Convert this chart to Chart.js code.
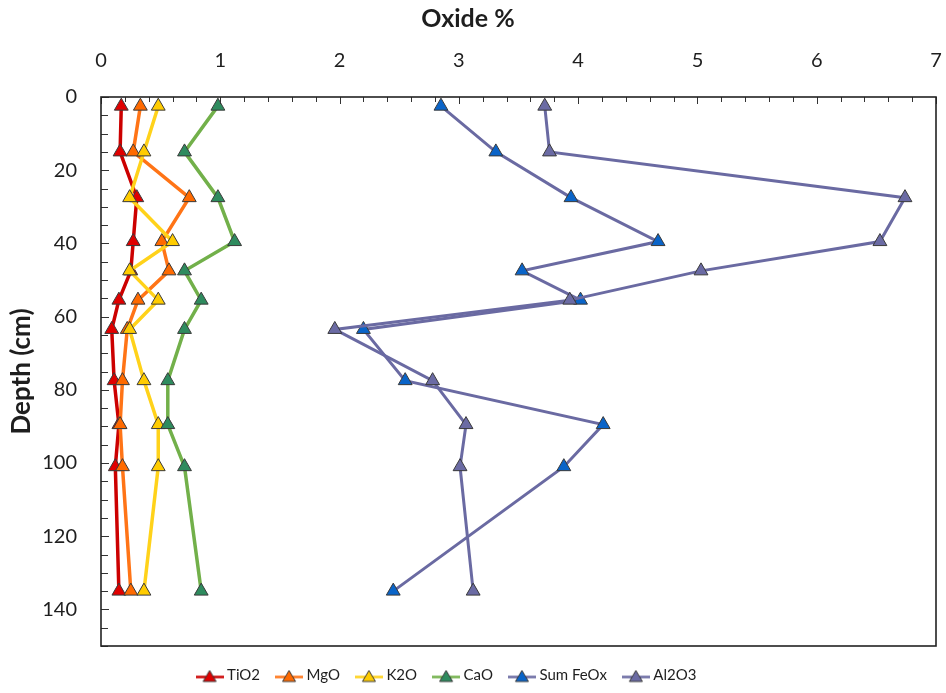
<!DOCTYPE html>
<html>
<head>
<meta charset="utf-8">
<title>Oxide % by depth</title>
<script src="https://cdn.jsdelivr.net/npm/chart.js@4.4.1/dist/chart.umd.min.js"></script>
<style>
  html, body { margin: 0; padding: 0; background: #ffffff; }
  canvas { display: block; }
</style>
</head>
<body>
<canvas id="chart" width="946" height="693"></canvas>
<script>
// Sample depths (cm) shared by every oxide profile
const depths = [2.5, 15, 27.5, 39.5, 47.5, 55.5, 63.5, 77.5, 89.5, 101, 135];

// Oxide contents (%) at each depth
const tio2  = [0.17, 0.16, 0.30, 0.27, 0.25, 0.15, 0.09, 0.11, 0.15, 0.12, 0.15];
const mgo   = [0.33, 0.27, 0.74, 0.51, 0.57, 0.31, 0.22, 0.18, 0.16, 0.18, 0.25];
const k2o   = [0.48, 0.36, 0.24, 0.60, 0.24, 0.48, 0.24, 0.36, 0.48, 0.48, 0.36];
const cao   = [0.98, 0.70, 0.98, 1.12, 0.70, 0.84, 0.70, 0.56, 0.56, 0.70, 0.84];
const feox  = [2.85, 3.31, 3.94, 4.67, 3.53, 4.02, 2.20, 2.55, 4.21, 3.88, 2.45];
const al2o3 = [3.72, 3.76, 6.74, 6.53, 5.03, 3.93, 1.96, 2.78, 3.06, 3.01, 3.12];

const seriesNames = ['TiO2', 'MgO', 'K2O', 'CaO', 'Sum FeOx', 'Al2O3'];
const seriesValues = [tio2, mgo, k2o, cao, feox, al2o3];

// Axis tick labels
const oxideTicks = [0, 1, 2, 3, 4, 5, 6, 7];
const depthTicks = [0, 20, 40, 60, 80, 100, 120, 140];

// Line colour / marker fill per series
const lineColors = ['#CC0000', '#FF7416', '#FFD21A', '#72B04A', '#6A6AA2', '#6A6AA2'];
const fillColors = ['#E00000', '#FF6A00', '#FFCC00', '#2E8B5E', '#0A64C8', '#6B6BA4'];

const FONT = 'Lato, "Open Sans", sans-serif';
const INK = '#1e1e1e';

// Small line-plus-triangle glyph for the legend
function legendGlyph(line, fill) {
  const c = document.createElement('canvas');
  c.width = 28; c.height = 16;
  const g = c.getContext('2d');
  g.strokeStyle = line; g.lineWidth = 2.5;
  g.beginPath(); g.moveTo(0, 9.5); g.lineTo(28, 9.5); g.stroke();
  g.fillStyle = fill; g.strokeStyle = '#3a3a3a'; g.lineWidth = 1;
  g.beginPath(); g.moveTo(14, 3); g.lineTo(20.5, 14); g.lineTo(7.5, 14); g.closePath();
  g.fill(); g.stroke();
  return c;
}
const glyphs = lineColors.map((c, i) => legendGlyph(c, fillColors[i]));

const datasets = seriesNames.map((name, i) => ({
  label: name,
  data: seriesValues[i].map((v, k) => ({ x: v, y: depths[k] })),
  showLine: true,
  borderColor: lineColors[i],
  backgroundColor: fillColors[i],
  borderWidth: i < 4 ? 3.5 : 3,
  pointStyle: 'triangle',
  pointRadius: 8,
  pointHoverRadius: 8,
  pointBackgroundColor: fillColors[i],
  pointBorderColor: '#3a3a3a',
  pointBorderWidth: 1,
  order: seriesNames.length - i,   // later series painted on top
  clip: false
}));

// Plot frame plus inward tick marks on the top and left axes
const axisFrame = {
  id: 'axisFrame',
  afterLayout(chart) {
    // legend row sits a little left of the canvas centre and slightly lower
    const lg = chart.legend;
    if (lg) { lg.left -= 40; lg.top += 3; lg.bottom += 3; }
  },
  afterDatasetsDraw(chart) {
    const { ctx, chartArea: a, scales } = chart;
    const x = scales.x, y = scales.y;
    ctx.save();
    ctx.strokeStyle = '#333333';
    ctx.lineWidth = 1;
    ctx.beginPath();
    for (let i = 0; i <= 35; i++) {
      const px = Math.round(x.getPixelForValue(i * 0.2)) + 0.5;
      const len = i % 5 === 0 ? 7 : 5;
      ctx.moveTo(px, a.top); ctx.lineTo(px, a.top + len);
    }
    for (let i = 0; i <= 30; i++) {
      const py = Math.round(y.getPixelForValue(i * 5)) + 0.5;
      const len = i % 4 === 0 ? 8 : 7;
      ctx.moveTo(a.left, py); ctx.lineTo(a.left + len, py);
    }
    ctx.stroke();
    ctx.strokeStyle = '#222222';
    ctx.lineWidth = 1.6;
    ctx.strokeRect(a.left, a.top, a.right - a.left, a.bottom - a.top);
    ctx.restore();
  }
};

new Chart(document.getElementById('chart'), {
  type: 'scatter',
  data: { datasets },
  options: {
    responsive: false,
    animation: false,
    devicePixelRatio: 1,
    layout: { padding: { top: 0, left: 0, right: 10, bottom: 3 } },
    plugins: {
      tooltip: { enabled: false },
      title: {
        display: true,
        text: 'Oxide %',
        color: INK,
        font: { family: FONT, size: 25, weight: 'bold', lineHeight: 1.2 },
        padding: { top: 4, bottom: 4 }
      },
      legend: {
        position: 'bottom',
        align: 'center',
        labels: {
          usePointStyle: true,
          pointStyleWidth: 20,
          boxHeight: 15,
          padding: 19,
          color: INK,
          font: { family: FONT, size: 15 },
          generateLabels(chart) {
            const base = Chart.defaults.plugins.legend.labels.generateLabels(chart);
            return base.map(item => Object.assign(item, { pointStyle: glyphs[item.datasetIndex] }));
          },
          sort: (a, b) => a.datasetIndex - b.datasetIndex
        }
      }
    },
    scales: {
      x: {
        type: 'linear',
        position: 'top',
        min: 0, max: 7,
        grid: { display: false, drawTicks: false },
        border: { display: false },
        afterBuildTicks(scale) { scale.ticks = oxideTicks.map(v => ({ value: v })); },
        ticks: {
          padding: 24,
          color: INK,
          font: { family: FONT, size: 20 },
          maxRotation: 0,
          autoSkip: false
        },
        title: { display: false },
        afterFit(scale) {
          scale.height = 59;
          scale.paddingLeft = 0;
          scale.paddingRight = 0;
        }
      },
      y: {
        type: 'linear',
        position: 'left',
        reverse: true,
        min: 0, max: 150,
        grid: { display: false, drawTicks: false },
        border: { display: false },
        afterBuildTicks(scale) { scale.ticks = depthTicks.map(v => ({ value: v })); },
        ticks: {
          padding: 24,
          color: INK,
          font: { family: FONT, size: 20 },
          autoSkip: false
        },
        title: {
          display: true,
          text: 'Depth (cm)',
          color: INK,
          font: { family: FONT, size: 26, weight: 'bold' },
          padding: { top: 6, bottom: 0 }
        },
        afterFit(scale) {
          scale.width = 101;
          scale.paddingTop = 0;
          scale.paddingBottom = 0;
        }
      }
    }
  },
  plugins: [axisFrame]
});
</script>
</body>
</html>
